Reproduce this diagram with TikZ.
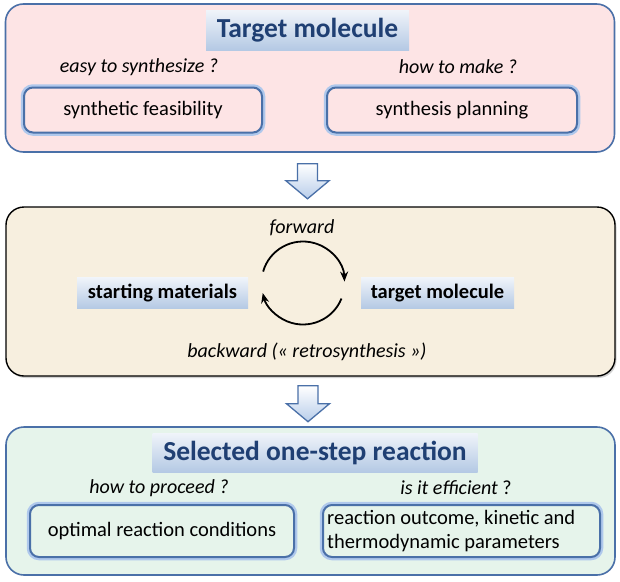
\documentclass[tikz,border=0pt]{standalone}
\usepackage{fontspec}
\setmainfont{Carlito}
\usetikzlibrary{arrows.meta,shadows,calc}
\definecolor{pinkfill}{HTML}{FDE4E5}
\definecolor{frameblue}{HTML}{4A70A8}
\definecolor{beige}{HTML}{F7EFDF}
\definecolor{mint}{HTML}{E6F4EB}
\definecolor{titleblue}{HTML}{1F3F73}
\definecolor{hlTop}{HTML}{F0F4FA}
\definecolor{hlBot}{HTML}{B4C9E4}
\definecolor{glow}{HTML}{AFC8EC}
\definecolor{arrowblue}{HTML}{B8CDEA}
\tikzset{
  outerbox/.style={rounded corners=18pt, draw=frameblue, line width=1.6pt},
  midbox/.style={rounded corners=18pt, draw=black, line width=1.4pt, fill=beige,
     drop shadow={shadow xshift=1.5pt, shadow yshift=-2pt, opacity=0.35}},
  innerbox/.style={rounded corners=9pt, draw=frameblue, line width=2pt,
     preaction={draw=glow, line width=6.5pt}},
  hl/.style={top color=hlTop, bottom color=hlBot, inner sep=0pt},
  titletext/.style={font=\bfseries\fontsize{27.5}{32}\selectfont, text=titleblue},
  qtext/.style={font=\itshape\fontsize{20}{24}\selectfont},
  bodytext/.style={font=\fontsize{20.5}{24}\selectfont},
  boldtext/.style={font=\bfseries\fontsize{20.5}{24}\selectfont},
  blockarrow/.style={draw=frameblue, line width=1.3pt, top color=white, bottom color=arrowblue, line join=miter},
  cyc/.style={line width=1.8pt, -{Stealth[length=10pt,width=8pt]}}
}
\begin{document}
\begin{tikzpicture}[x=1pt,y=-1pt]
\useasboundingbox (0,0) rectangle (620,581);
\fill[white] (0,0) rectangle (620,581);
% ---------- top box
\node[outerbox, fill=pinkfill, minimum width=609pt, minimum height=148pt] (topbox) at (310,78) {};
\node[hl, titletext, minimum width=203pt, minimum height=40pt] (t1) at (307.5,30) {Target molecule};
\node[qtext] (q1) at (139,67) {easy to synthesize ?};
\node[qtext] (q2) at (458,67) {how to make ?};
\node[innerbox, fill=pinkfill, minimum width=238pt, minimum height=45pt, bodytext] (b1) at (143,110) {synthetic feasibility};
\node[innerbox, fill=pinkfill, minimum width=250pt, minimum height=45pt, bodytext] (b2) at (452,110) {synthesis planning};
% ---------- middle box
\node[midbox, minimum width=609pt, minimum height=169pt] (midbox) at (310.5,291.5) {};
\node[qtext] (fw) at (302,228) {forward};
\node[qtext] (bw) at (307,352) {backward (« retrosynthesis »)};
\node[hl, boldtext, minimum width=171pt, minimum height=31pt] (sm) at (162.5,293) {starting materials};
\node[hl, boldtext, minimum width=153pt, minimum height=31pt] (tm) at (437.5,293) {target molecule};
\coordinate (cc) at (303,283);
\draw[cyc] ([shift={(-164:41.5)}]cc) arc[start angle=-164, end angle=-2, radius=41.5];
\draw[cyc] ([shift={(22:41.5)}]cc) arc[start angle=22, end angle=166, radius=41.5];
% ---------- bottom box
\node[outerbox, fill=mint, minimum width=609pt, minimum height=148pt] (botbox) at (310.5,501) {};
\node[hl, titletext, minimum width=325pt, minimum height=39pt] (t2) at (315,452.5) {Selected one-step reaction};
\node[qtext] (q3) at (159,488) {how to proceed ?};
\node[font=\fontsize{20}{24}\selectfont] (q4) at (456,488) {\textit{is it efficient} ?};
\node[innerbox, fill=mint, minimum width=264pt, minimum height=52pt, bodytext] (b3) at (162,531) {optimal reaction conditions};
\node[innerbox, fill=mint, minimum width=277pt, minimum height=52pt] (b4) at (461.5,531) {};
\node[bodytext, align=left, anchor=west, inner sep=0pt] (b4t) at ([xshift=5pt]b4.west) {reaction outcome, kinetic and\\thermodynamic parameters};
% ---------- block arrows
\draw[blockarrow] ($(topbox.south)+(-12.5,11)$) -- ++(20,0) -- ++(0,17) -- ++(11.5,0)
   -- ++(-21.5,18) -- ++(-21.5,-18) -- ++(11.5,0) -- cycle;
\draw[blockarrow] ($(midbox.south)+(-12.5,9)$) -- ++(20,0) -- ++(0,18) -- ++(11.5,0)
   -- ++(-21.5,18) -- ++(-21.5,-18) -- ++(11.5,0) -- cycle;
\end{tikzpicture}
\end{document}
